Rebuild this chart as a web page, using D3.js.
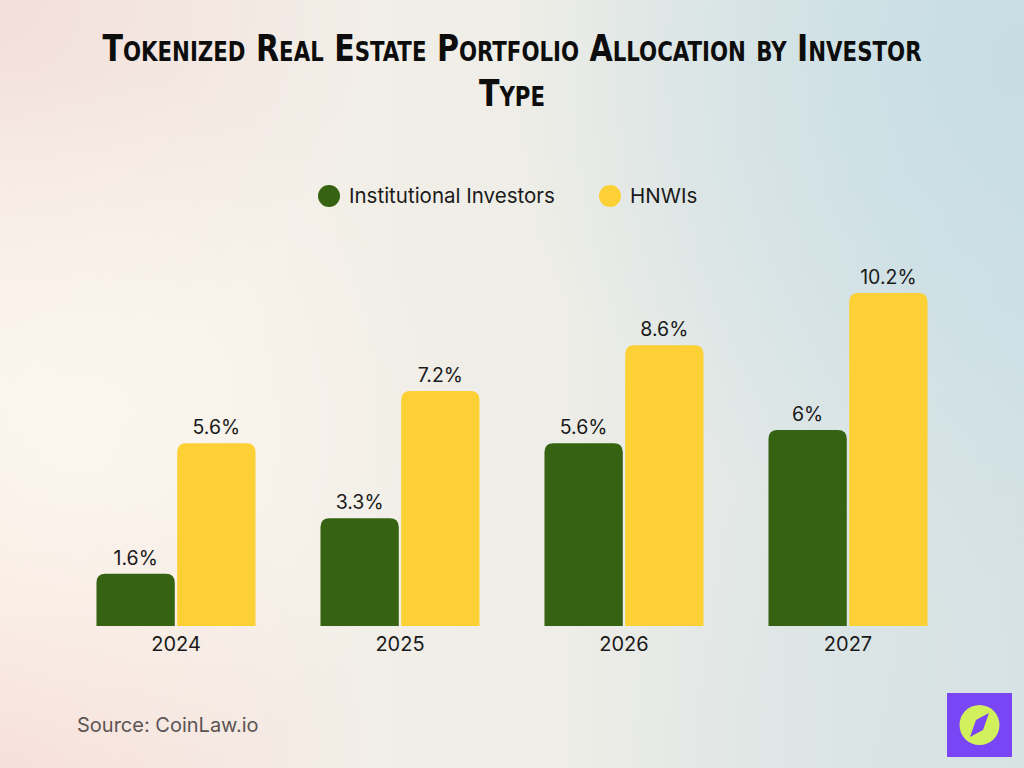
<!DOCTYPE html>
<html>
<head>
<meta charset="utf-8">
<script src="https://cdn.jsdelivr.net/npm/d3@7"></script>
<style>
  body { margin: 0; padding: 0; }
  svg { display: block; }
</style>
</head>
<body>
<div id="chart"></div>
<script>
// data
var years = ["2024", "2025", "2026", "2027"];
var seriesNames = ["Institutional Investors", "HNWIs"];
var institutional = [1.6, 3.3, 5.6, 6];
var hnwi = [5.6, 7.2, 8.6, 10.2];
var labelsInst = ["1.6%", "3.3%", "5.6%", "6%"];
var labelsHnwi = ["5.6%", "7.2%", "8.6%", "10.2%"];
var colors = ["#356312", "#fdd035"];

var width = 1024, height = 768;
var svg = d3.select("#chart").append("svg")
    .attr("width", width)
    .attr("height", height);

// background
var defs = svg.append("defs");
var base = defs.append("linearGradient").attr("id", "bgBase")
    .attr("x1", "0").attr("y1", "0").attr("x2", "1").attr("y2", "0");
base.append("stop").attr("offset", "0%").attr("stop-color", "#f9f1ea");
base.append("stop").attr("offset", "55%").attr("stop-color", "#eeede7");
base.append("stop").attr("offset", "100%").attr("stop-color", "#d3e2e6");
svg.append("rect").attr("width", width).attr("height", height).attr("fill", "url(#bgBase)");

function blob(id, cx, cy, r, col, op) {
  var g = defs.append("radialGradient").attr("id", id)
      .attr("cx", cx).attr("cy", cy).attr("r", r).attr("gradientUnits", "userSpaceOnUse");
  g.append("stop").attr("offset", "0%").attr("stop-color", col).attr("stop-opacity", op);
  g.append("stop").attr("offset", "100%").attr("stop-color", col).attr("stop-opacity", 0);
  svg.append("rect").attr("width", width).attr("height", height).attr("fill", "url(#" + id + ")");
}
blob("b1", 0, 0, 380, "#f1dcd9", 0.9);
blob("b2", 1024, 60, 520, "#c5dde4", 0.9);
blob("b3", 0, 768, 380, "#f6dcd6", 0.9);
blob("b4", 80, 430, 360, "#fcf7ee", 0.9);
blob("b5", 1024, 768, 420, "#d9e2e2", 0.7);

// title
var titleG = svg.append("g");
var title = titleG.append("text")
    .attr("text-anchor", "middle")
    .style("font-family", "'DejaVu Sans Condensed', 'Liberation Sans Narrow', sans-serif")
    .style("font-weight", "bold")
    .style("font-size", "37px")
    .style("font-variant", "small-caps")
    .attr("fill", "#0d0d0d");
var line1 = title.append("tspan").attr("x", 0).attr("y", 61).text("Tokenized Real Estate Portfolio Allocation by Investor");
title.append("tspan").attr("x", 0).attr("y", 106).text("Type");
var natural = line1.node().getComputedTextLength();
var sx = 813 / natural;
titleG.attr("transform", "translate(512,0) scale(" + sx + ",1)");

// legend
var legend = svg.append("g");
var legendX = [329, 610];
seriesNames.forEach(function(name, i) {
  legend.append("circle")
      .attr("cx", legendX[i]).attr("cy", 196).attr("r", 11)
      .attr("fill", colors[i]);
  legend.append("text")
      .attr("x", legendX[i] + 20).attr("y", 203)
      .style("font-family", "Inter, 'Open Sans', sans-serif")
      .style("font-size", "20.5px")
      .attr("fill", "#1a1a1a")
      .text(name);
});

// scales
var x0 = d3.scaleBand().domain(years).range([64, 960]).paddingInner(0.29).paddingOuter(0.145);
var x1 = d3.scaleBand().domain(seriesNames).range([0, x0.bandwidth()]).paddingInner(0.03);
var y = d3.scaleLinear().domain([0, 10.2]).range([626, 293]);

function topRounded(x, y0, w, h, r) {
  r = Math.min(r, h, w / 2);
  return "M" + x + "," + (y0 + h) +
    "V" + (y0 + r) +
    "Q" + x + "," + y0 + " " + (x + r) + "," + y0 +
    "H" + (x + w - r) +
    "Q" + (x + w) + "," + y0 + " " + (x + w) + "," + (y0 + r) +
    "V" + (y0 + h) + "Z";
}

var rows = years.map(function(yr, i) {
  return [
    {year: yr, series: seriesNames[0], value: institutional[i], label: labelsInst[i], color: colors[0]},
    {year: yr, series: seriesNames[1], value: hnwi[i], label: labelsHnwi[i], color: colors[1]}
  ];
});

var groups = svg.selectAll("g.group").data(rows).enter().append("g")
    .attr("class", "group")
    .attr("transform", function(d) { return "translate(" + x0(d[0].year) + ",0)"; });

groups.selectAll("path").data(function(d) { return d; }).enter().append("path")
    .attr("d", function(d) {
      return topRounded(x1(d.series), y(d.value), x1.bandwidth(), y(0) - y(d.value), 9);
    })
    .attr("fill", function(d) { return d.color; });

groups.selectAll("text.val").data(function(d) { return d; }).enter().append("text")
    .attr("class", "val")
    .attr("x", function(d) { return x1(d.series) + x1.bandwidth() / 2; })
    .attr("y", function(d) { return y(d.value) - 9; })
    .attr("text-anchor", "middle")
    .style("font-family", "Inter, 'Open Sans', sans-serif")
    .style("font-size", "19.5px")
    .attr("fill", "#1a1a1a")
    .text(function(d) { return d.label; });

// x axis
var xAxis = d3.axisBottom(x0).tickSize(0).tickPadding(11);
var ax = svg.append("g").attr("transform", "translate(0," + y(0) + ")").call(xAxis);
ax.select(".domain").remove();
ax.selectAll("text")
    .style("font-family", "Inter, 'Open Sans', sans-serif")
    .style("font-size", "20px")
    .attr("fill", "#1a1a1a");

// source
svg.append("text")
    .attr("x", 77).attr("y", 732)
    .style("font-family", "Inter, 'Open Sans', sans-serif")
    .style("font-size", "20px")
    .attr("fill", "#5b5454")
    .text("Source: CoinLaw.io");

// logo
var logo = svg.append("g").attr("transform", "translate(947,693)");
logo.append("rect").attr("width", 65).attr("height", 64).attr("fill", "#7a45f5");
logo.append("circle").attr("cx", 32.5).attr("cy", 32).attr("r", 20).attr("fill", "#d2f05b");
logo.append("path").attr("d", "M42,20 L36,37 L23,44 L29,27 Z").attr("fill", "#7a45f5");
</script>
</body>
</html>
